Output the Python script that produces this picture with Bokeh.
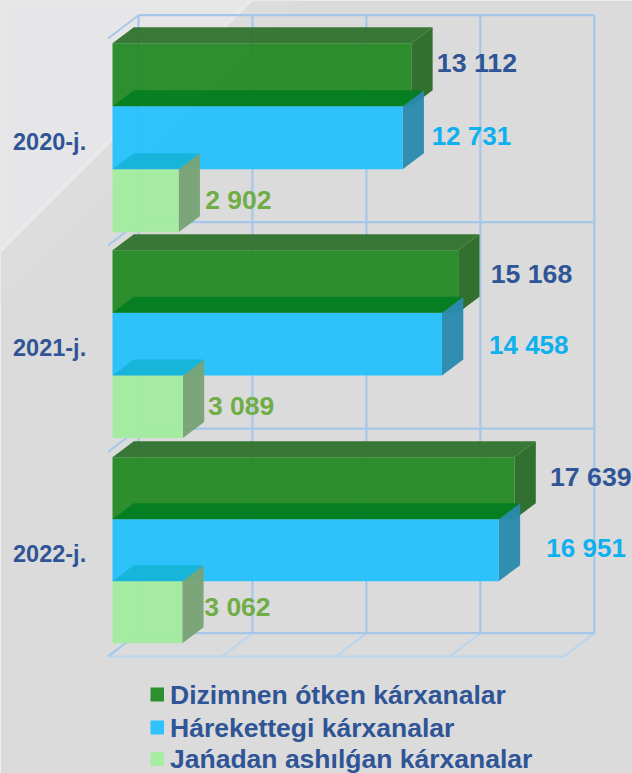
from bokeh.plotting import figure
from bokeh.models import Range1d
from bokeh.core.properties import value
from bokeh.embed import file_html
from bokeh.resources import INLINE

years = ["2020-j.", "2021-j.", "2022-j."]
registered = [13112, 15168, 17639]
active = [12731, 14458, 16951]
new_opened = [2902, 3089, 3062]
legend_labels = ["Dizimnen ótken kárxanalar", "Hárekettegi kárxanalar", "Jańadan ashılǵan kárxanalar"]
grid_values = [0, 5000, 10000, 15000, 20000]

W, H = 632, 773
PX_PER_UNIT = 0.02279
X0 = 112
def ux(px):
    return (px - X0) / PX_PER_UNIT

p = figure(width=W, height=H, output_backend="svg", toolbar_location=None,
           x_range=Range1d(ux(0), ux(W)), y_range=Range1d(H, 0),
           min_border=0, outline_line_color=None, background_fill_color="#dbdbdb",
           border_fill_color="#dbdbdb")
p.axis.visible = False
p.grid.visible = False

# background sheen
p.patch([ux(0), ux(300), ux(0)], [0, 0, 300], fill_color="#dcdcdd", line_color=None)
p.patch([ux(0), ux(250), ux(0)], [0, 0, 250], fill_color="#e6e6e9", line_color=None)
p.line([ux(0), ux(250)], [250, 0], line_color="#e9e9eb", line_width=4)

# wall / floor grid
GRID = "#a4c7ea"
GRID_FRONT = "#b8d5f0"
FLOOR_Y = 656
DEPTH_X, DEPTH_Y = 30.5, -23.3
GRID_LEFT = 107.5
front_x = [GRID_LEFT + v * PX_PER_UNIT for v in grid_values]
back_x = [x + DEPTH_X for x in front_x]
levels = [38, 245, 451.5, FLOOR_Y]
for fx, bx in zip(front_x, back_x):
    p.line([ux(bx), ux(bx)], [levels[0] + DEPTH_Y, FLOOR_Y + DEPTH_Y], line_color=GRID, line_width=2.2)
    p.line([ux(fx), ux(bx)], [FLOOR_Y, FLOOR_Y + DEPTH_Y], line_color=GRID_FRONT, line_width=2)
for y in levels:
    p.line([ux(back_x[0]), ux(back_x[-1])], [y + DEPTH_Y, y + DEPTH_Y], line_color=GRID, line_width=2.2)
    p.line([ux(front_x[0]), ux(back_x[0])], [y, y + DEPTH_Y], line_color=GRID, line_width=2)
p.line([ux(front_x[0]), ux(front_x[-1])], [FLOOR_Y, FLOOR_Y], line_color=GRID_FRONT, line_width=2)

# bars
DX, DY = 21.3, -16
BAR_HS = [63, 62.6, 62]
GROUP_TOPS = [42.7, 249.7, 456.7]
DEPTH_U = DX / PX_PER_UNIT

STYLES = [
    dict(front="#1e8820", solid="#2d8f2f", top="#2b6f28", side="#2a6b27", top_alpha=0.92, values=registered),
    dict(front="#20c0fe", solid="#2fc2fb", top="#007d20", side="#2a8aae", top_alpha=0.85, values=active),
    dict(front="#a1ee9d", solid="#a6eda2", top="#12b2d2", side="#78a376", top_alpha=0.8, values=new_opened),
]
for g in range(len(years)):
    for s, st in enumerate(STYLES):
        v = st["values"][g]
        t = GROUP_TOPS[g] + s * BAR_HS[g]
        b = t + BAR_HS[g]
        p.patch([v, v + DEPTH_U, v + DEPTH_U, v], [t, t + DY, b + DY, b],
                fill_color=st["side"], fill_alpha=0.96, line_color=None)
        p.patch([0, v, v, 0], [t, t, b, b], fill_color=st["front"], fill_alpha=0.92, line_color=None)
        p.patch([0, DEPTH_U, v + DEPTH_U, v], [t, t + DY, t + DY, t],
                fill_color=st["top"], fill_alpha=st["top_alpha"], line_color=None)

# value labels
LABEL_COLORS = ["#2f5597", "#0fb0f0", "#70ad47"]
LABEL_SIZES = ["26.7px", "26px", "26.5px"]
LABEL_DX = [[25.5, 29, 26.5], [32.5, 47, 25], [35.5, 47.5, 22]]
LABEL_Y = [[62, 135, 199], [273, 344, 405], [476, 547, 606]]
for g in range(len(years)):
    for s, st in enumerate(STYLES):
        v = st["values"][g]
        p.text([v + LABEL_DX[g][s] / PX_PER_UNIT], [LABEL_Y[g][s]],
               text=[f"{v:,}".replace(",", " ")],
               text_font=value("Liberation Sans"), text_font_style="bold",
               text_font_size=LABEL_SIZES[s], text_color=LABEL_COLORS[s],
               text_align="left", text_baseline="middle")

# category labels
CAT_Y = [141, 347, 553]
p.text([ux(12.5)] * 3, CAT_Y, text=years, text_font=value("Liberation Sans"),
       text_font_style="bold", text_font_size="23.5px", text_color="#2f5597",
       text_align="left", text_baseline="middle")

# legend
LEG_Y = [694, 727, 758.5]
for lab, y, st in zip(legend_labels, LEG_Y, STYLES):
    p.patch([ux(150), ux(163.5), ux(163.5), ux(150)], [y - 7, y - 7, y + 7, y + 7],
            fill_color=st["solid"], line_color=None)
    p.text([ux(169.5)], [y], text=[lab], text_font=value("Liberation Sans"),
           text_font_style="bold", text_font_size="26.5px", text_color="#2f5597",
           text_align="left", text_baseline="middle")

open("out.html", "w").write(file_html(p, INLINE))
